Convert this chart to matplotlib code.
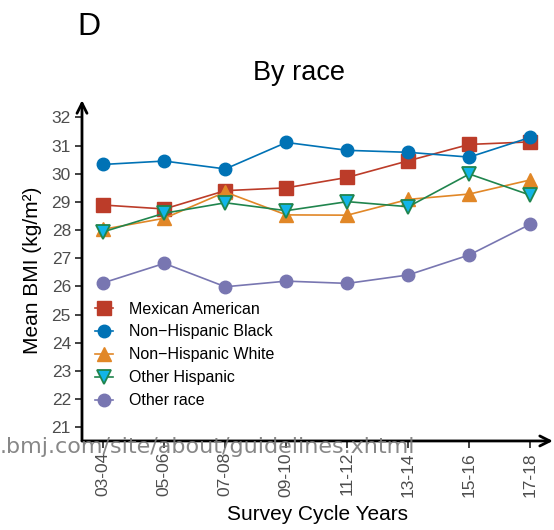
import matplotlib
matplotlib.use("Agg")
import matplotlib.pyplot as plt

plt.rcParams["font.family"] = ["Liberation Sans", "DejaVu Sans"]

cycles = ["03-04", "05-06", "07-08", "09-10", "11-12", "13-14", "15-16", "17-18"]

mexican_american = [28.89, 28.75, 29.40, 29.50, 29.87, 30.46, 31.04, 31.13]
nh_black = [30.33, 30.45, 30.17, 31.11, 30.83, 30.76, 30.59, 31.29]
nh_white = [28.03, 28.42, 29.35, 28.54, 28.53, 29.09, 29.28, 29.78]
other_hispanic = [27.94, 28.60, 28.97, 28.69, 29.01, 28.83, 29.99, 29.24]
other_race = [26.13, 26.82, 25.99, 26.19, 26.11, 26.41, 27.12, 28.21]

y_ticks = list(range(21, 33))

fig = plt.figure(figsize=(5.54, 5.30), dpi=100)
ax = fig.add_axes([0.148, 0.168, 0.850, 0.643])

x = range(len(cycles))
ax.plot(x, mexican_american, color="#BC3C29", marker="s", markersize=9.5,
        lw=1.2, label="Mexican American")
ax.plot(x, nh_black, color="#0072B5", marker="o", markersize=9,
        lw=1.2, label="Non\u2212Hispanic Black")
ax.plot(x, nh_white, color="#E18727", marker="^", markersize=10.5,
        lw=1.2, label="Non\u2212Hispanic White")
ax.plot(x, other_hispanic, color="#20854E", marker="v", markersize=10.5,
        markerfacecolor="#12B5E8", markeredgecolor="#20854E", markeredgewidth=1.3,
        lw=1.2, label="Other Hispanic")
ax.plot(x, other_race, color="#7876B1", marker="o", markersize=9,
        lw=1.2, label="Other race")

ax.set_xlim(-0.35, 7.37)
ax.set_ylim(20.52, 32.61)
ax.set_xticks(list(x))
ax.set_xticklabels(cycles, rotation=90)
ax.set_yticks(y_ticks)
ax.tick_params(axis="both", colors="#333333", labelcolor="#4D4D4D",
               labelsize=12.5, length=5, width=1.3, pad=3)

for s in ax.spines.values():
    s.set_visible(False)
ax.annotate("", xy=(1.0, 0), xytext=(0, 0), xycoords="axes fraction",
            arrowprops=dict(arrowstyle="->", lw=2, color="black",
                            mutation_scale=18, shrinkA=0, shrinkB=0))
ax.annotate("", xy=(0, 1.0), xytext=(0, 0), xycoords="axes fraction",
            arrowprops=dict(arrowstyle="->", lw=2, color="black",
                            mutation_scale=18, shrinkA=0, shrinkB=0))

ax.set_xlabel("Survey Cycle Years", fontsize=15, labelpad=6)
ax.set_ylabel("Mean BMI (kg/m\u00b2)", fontsize=15, labelpad=7)

ax.legend(loc="upper left", bbox_to_anchor=(95 / 554, 1 - 301.5 / 530),
          bbox_transform=fig.transFigure, frameon=False, fontsize=11.5,
          handlelength=1.15, handletextpad=1.0, labelspacing=0.5,
          borderpad=0, borderaxespad=0)

fig.text(299 / 554, 1 - 73 / 530, "By race", fontsize=19.5,
         ha="center", va="center")
fig.text(89 / 554, 1 - 27 / 530, "D", fontsize=23, ha="center", va="center")

# watermark sitting over the x axis in the source image
fig.text(0, 1 - 447 / 530, ".bmj.com/site/about/guidelines.xhtml",
         fontsize=16, color="#7a7a7a", alpha=0.9, family="DejaVu Sans",
         ha="left", va="center")

fig.savefig("out.png", dpi=100)
